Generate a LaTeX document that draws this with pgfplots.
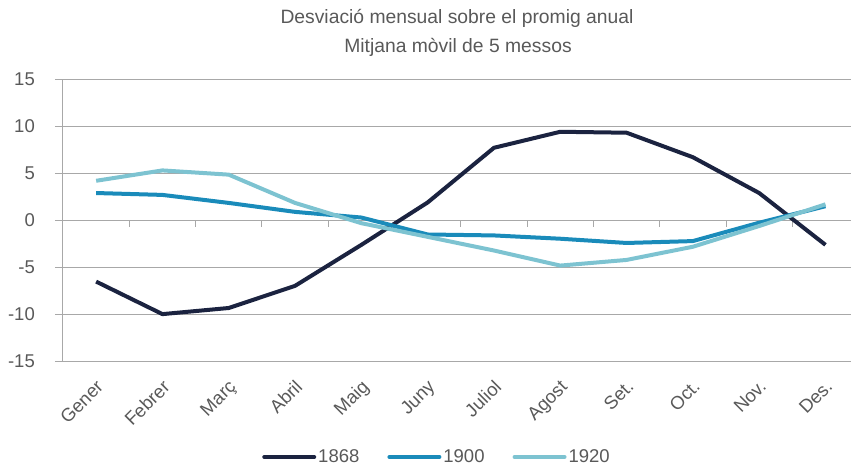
\documentclass[border=0pt]{standalone}
\usepackage{pgfplots}
\pgfplotsset{compat=1.18}
\usepackage{fontspec}
\setmainfont{Liberation Sans}
\definecolor{cnavy}{HTML}{1B2340}
\definecolor{cblue}{HTML}{1A8BBA}
\definecolor{clight}{HTML}{7DC3D1}
\definecolor{txtgrey}{HTML}{595959}
\definecolor{gridgrey}{HTML}{A8A8A8}
\begin{document}
\begin{tikzpicture}[x=1pt,y=1pt]
\useasboundingbox (0,0) rectangle (851,467);
\node[font=\fontsize{19.3}{23}\selectfont, text=txtgrey] at (457,449) {Desviació mensual sobre el promig anual};
\node[font=\fontsize{19.3}{23}\selectfont, text=txtgrey] at (458,420) {Mitjana mòvil de 5 messos};
\begin{axis}[
  at={(63pt,105.3pt)}, anchor=south west,
  scale only axis, width=788pt, height=282.7pt,
  xmin=-0.5, xmax=11.385, ymin=-15, ymax=15,
  axis y line*=left, axis x line*=bottom,
  axis line style={draw=gridgrey, line width=1pt},
  ytick={-15,-10,...,15},
  xtick={0,...,11},
  xticklabels={Gener,Febrer,Març,Abril,Maig,Juny,Juliol,Agost,Set.,Oct.,Nov.,Des.},
  ymajorgrids, grid style={draw=gridgrey, line width=1pt},
  tick align=outside,
  x tick style={draw=none},
  y tick style={draw=gridgrey, line width=1pt},
  major tick length=8pt,
  tick label style={font=\fontsize{18.5}{22}\selectfont, text=txtgrey},
  /pgf/number format/assume math mode=true,
  yticklabel style={anchor=east, inner sep=0pt, xshift=-20pt},
  xticklabel style={xshift=-1pt, yshift=-9pt, rotate=45, anchor=north east, inner sep=0pt},
  legend style={at={(0.4746,-0.337)}, anchor=center, draw=none, fill=none,
    legend columns=3, font=\fontsize{18.5}{22}\selectfont, text=txtgrey,
    /tikz/every even column/.append style={column sep=26pt},
    inner sep=0pt, nodes={inner sep=2pt}},
  legend image code/.code={\draw[#1, line cap=round] (0pt,0pt) -- (50pt,0pt);},
  every axis plot/.append style={line width=4pt, line join=round},
  clip=false,
]
\draw[gridgrey, line width=1pt] (axis cs:-0.5,0) -- (axis cs:11.385,0);
\pgfplotsinvokeforeach{0.5,1.5,2.5,3.5,4.5,5.5,6.5,7.5,8.5,9.5,10.5}{
  \draw[gridgrey, line width=1pt] (axis cs:#1,0) -- (axis cs:#1,-0.75);
}
\addplot[cnavy] coordinates {(0,-6.5) (1,-9.95) (2,-9.3) (3,-6.95) (4,-2.6) (5,1.9) (6,7.7) (7,9.4) (8,9.3) (9,6.7) (10,2.9) (11,-2.6)};
\addlegendentry{1868}
\addplot[cblue] coordinates {(0,2.9) (1,2.7) (2,1.85) (3,0.9) (4,0.3) (5,-1.5) (6,-1.6) (7,-1.95) (8,-2.4) (9,-2.2) (10,-0.25) (11,1.5)};
\addlegendentry{1900}
\addplot[clight] coordinates {(0,4.2) (1,5.3) (2,4.85) (3,1.85) (4,-0.3) (5,-1.75) (6,-3.2) (7,-4.8) (8,-4.2) (9,-2.8) (10,-0.6) (11,1.7)};
\addlegendentry{1920}
\end{axis}
\end{tikzpicture}
\end{document}
